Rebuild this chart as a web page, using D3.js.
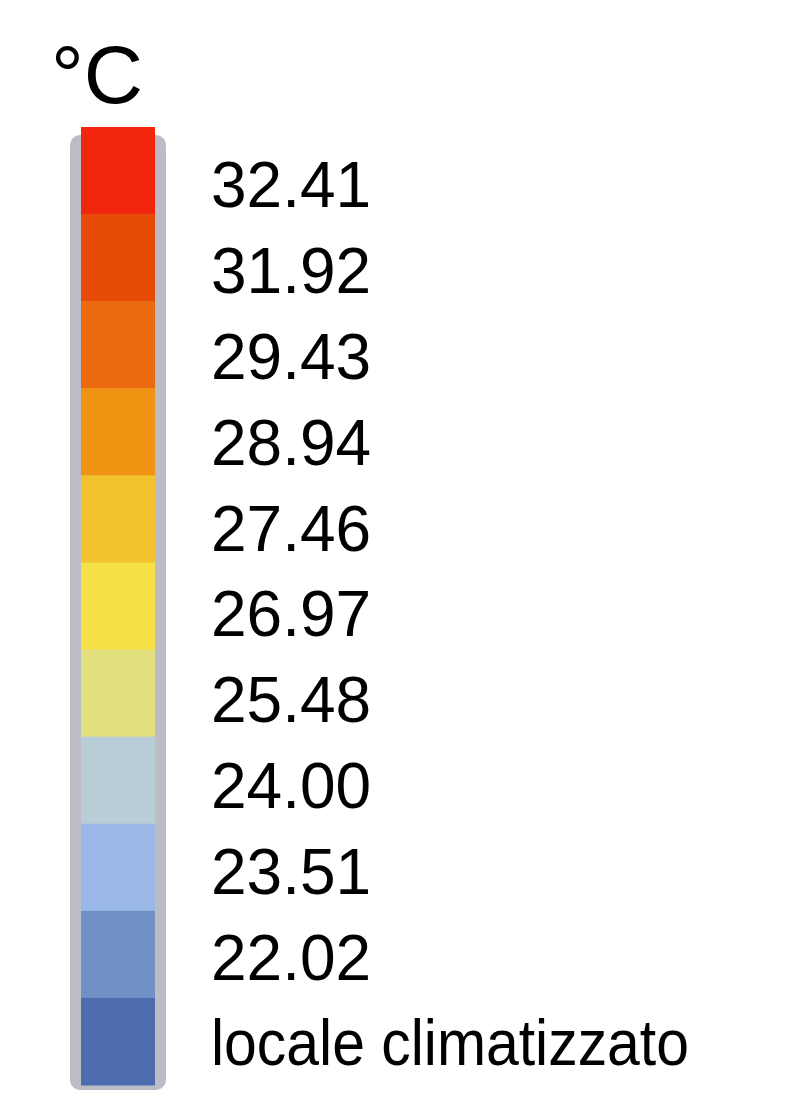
<!DOCTYPE html>
<html>
<head>
<meta charset="utf-8">
<script src="https://cdn.jsdelivr.net/npm/d3@7"></script>
<style>
  body { margin: 0; background: #fff; }
  text { font-family: "Liberation Sans", Arial, sans-serif; fill: #000; }
</style>
</head>
<body>
<div id="legend"></div>
<script>
// Legend classes, top to bottom
var classLabels = ["32.41", "31.92", "29.43", "28.94", "27.46", "26.97",
                   "25.48", "24.00", "23.51", "22.02", "locale climatizzato"];
var classColors = ["#f2260c", "#e84a08", "#ec6b10", "#f09312", "#f2c32c", "#f6e246",
                   "#e2e07e", "#b9cdd6", "#9bb9e8", "#6f91c6", "#4e6db0"];
var unitTitle = "°C";

var width = 804, height = 1094;

var svg = d3.select("#legend").append("svg")
    .attr("width", width)
    .attr("height", height);

// Band scale for the swatches
var swatchScale = d3.scaleBand()
    .domain(d3.range(classLabels.length))
    .range([127, 1085]);

// Labels sit on a slightly tighter spacing than the swatches
var labelScale = d3.scaleBand()
    .domain(d3.range(classLabels.length))
    .range([142, 1086]);

// Grey frame behind the colour column
svg.append("rect")
    .attr("x", 70)
    .attr("y", 135)
    .attr("width", 96)
    .attr("height", 955)
    .attr("rx", 10)
    .attr("fill", "#bcbcc4");

svg.selectAll("rect.swatch")
    .data(classColors)
    .enter()
    .append("rect")
    .attr("class", "swatch")
    .attr("x", 81)
    .attr("y", function(d, i) { return swatchScale(i); })
    .attr("width", 74)
    .attr("height", swatchScale.bandwidth() + 0.5)
    .attr("fill", function(d) { return d; });

// Title
svg.append("text")
    .attr("x", 51)
    .attr("y", 103)
    .style("font-size", "82px")
    .text(unitTitle);

// Labels
svg.selectAll("text.label")
    .data(classLabels)
    .enter()
    .append("text")
    .attr("class", "label")
    .attr("x", 211)
    .attr("y", function(d, i) { return labelScale(i) + labelScale.bandwidth() / 2; })
    .attr("dy", "0.35em")
    .style("font-size", "64px")
    .text(function(d) { return d; });

// the long text label is set narrower in the original
svg.selectAll("text.label")
    .filter(function(d) { return d.length > 6; })
    .attr("textLength", 478)
    .attr("lengthAdjust", "spacingAndGlyphs");
</script>
</body>
</html>
